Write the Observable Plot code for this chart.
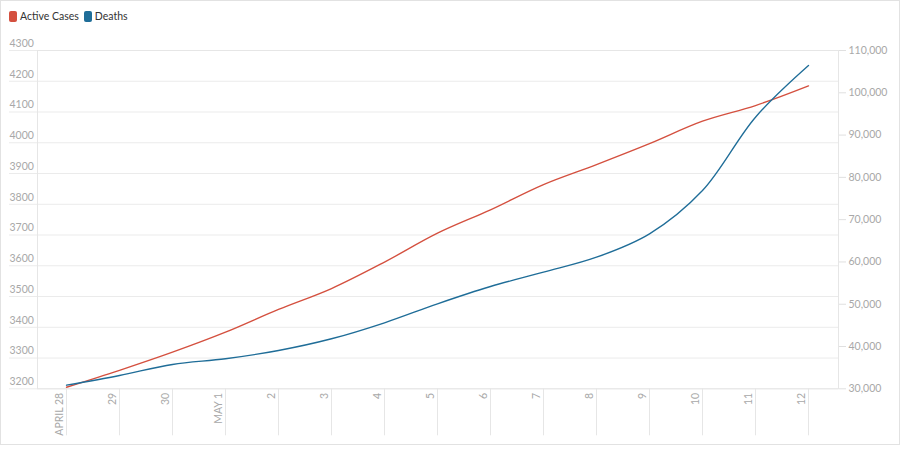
<!DOCTYPE html>
<html>
<head>
<meta charset="utf-8">
<script src="https://cdn.jsdelivr.net/npm/d3@7"></script>
<script src="https://cdn.jsdelivr.net/npm/@observablehq/plot@0.6"></script>
<style>
  html, body { margin: 0; padding: 0; background: #fff; }
  #wrap { position: relative; width: 900px; height: 445px; box-sizing: border-box; border: 1px solid #e2e2e2; font-family: Lato, "Noto Sans", sans-serif; }
  #legend { height: 33px; display: flex; align-items: flex-start; padding: 10px 0 0 8px; box-sizing: border-box; font-size: 10.5px; line-height: 11px; color: #333; }
  .item { display: flex; align-items: center; margin-right: 5px; }
  .sw { width: 8px; height: 11px; border-radius: 2px; margin-right: 3px; }
  #chart svg { display: block; }
</style>
</head>
<body>
<div id="wrap">
  <div id="legend"></div>
  <div id="chart"></div>
</div>
<script>
const dateLabels = ["APRIL 28","29","30","MAY 1","2","3","4","5","6","7","8","9","10","11","12"];
const activeCases = [3205, 3260, 3319, 3384, 3458, 3526, 3612, 3706, 3782, 3864, 3929, 3997, 4070, 4121, 4185];
const deaths = [30850, 33150, 35750, 37100, 39060, 41830, 45610, 50100, 54190, 57580, 61120, 66650, 76890, 94230, 106450];
const leftTicks = [3200,3300,3400,3500,3600,3700,3800,3900,4000,4100,4200,4300];
const rightTicks = [30000,40000,50000,60000,70000,80000,90000,100000,110000];
const seriesNames = ["Active Cases", "Deaths"];
const seriesColors = ["#d4503f", "#1f6d98"];

// map right-axis values onto left-axis scale
const lDom = [3200, 4300], rDom = [30000, 110000];
const toLeft = v => lDom[0] + (v - rDom[0]) * (lDom[1] - lDom[0]) / (rDom[1] - rDom[0]);
const toRight = v => rDom[0] + (v - lDom[0]) * (rDom[1] - rDom[0]) / (lDom[1] - lDom[0]);

const rows = [];
dateLabels.forEach((d, i) => {
  rows.push({date: d, series: seriesNames[0], y: activeCases[i]});
  rows.push({date: d, series: seriesNames[1], y: toLeft(deaths[i])});
});

const legend = document.getElementById("legend");
seriesNames.forEach((n, i) => {
  const it = document.createElement("div");
  it.className = "item";
  it.innerHTML = `<span class="sw" style="background:${seriesColors[i]}"></span><span>${n}</span>`;
  legend.appendChild(it);
});

const fmt = d3.format(",");
const rightPos = rightTicks.map(toLeft);
const chart = Plot.plot({
  width: 898,
  height: 410,
  marginLeft: 36,
  marginRight: 61,
  marginTop: 16,
  marginBottom: 55.7,
  style: {fontFamily: "Lato, 'Noto Sans', sans-serif", fontSize: "10.5px", color: "#a8a8a8", background: "#fff"},
  x: {type: "point", domain: dateLabels, range: [62.3, 810.3], padding: 0, label: null},
  y: {domain: lDom, label: null},
  color: {domain: seriesNames, range: seriesColors},
  marks: [
    Plot.gridY(leftTicks, {stroke: "#ebebeb", strokeOpacity: 1, insetLeft: -28}),
    Plot.frame({stroke: "#e6e6e6"}),
    Plot.axisX({tickSize: 47, stroke: "#e6e6e6", strokeOpacity: 1, tickFormat: () => "", label: null}),
    Plot.axisX({tickRotate: -90, tickSize: 0, tickPadding: 4, dx: -7, fill: "#a8a8a8", label: null}),
    Plot.axisY({anchor: "left", ticks: leftTicks, tickSize: 0, tickPadding: 0, textAnchor: "start", dx: -28, dy: -7, tickFormat: d => String(d), fill: "#a8a8a8", label: null}),
    Plot.axisY({anchor: "right", ticks: rightPos, tickSize: 7, stroke: "#e0e0e0", strokeOpacity: 1, tickFormat: () => "", label: null}),
    Plot.axisY({anchor: "right", ticks: rightPos, tickSize: 0, tickPadding: 10, fill: "#a8a8a8", tickFormat: d => fmt(Math.round(toRight(d) / 1000) * 1000), label: null}),
    Plot.line(rows, {x: "date", y: "y", z: "series", stroke: "series", strokeWidth: 1.35, curve: "catmull-rom"})
  ]
});
document.getElementById("chart").appendChild(chart);
</script>
</body>
</html>
